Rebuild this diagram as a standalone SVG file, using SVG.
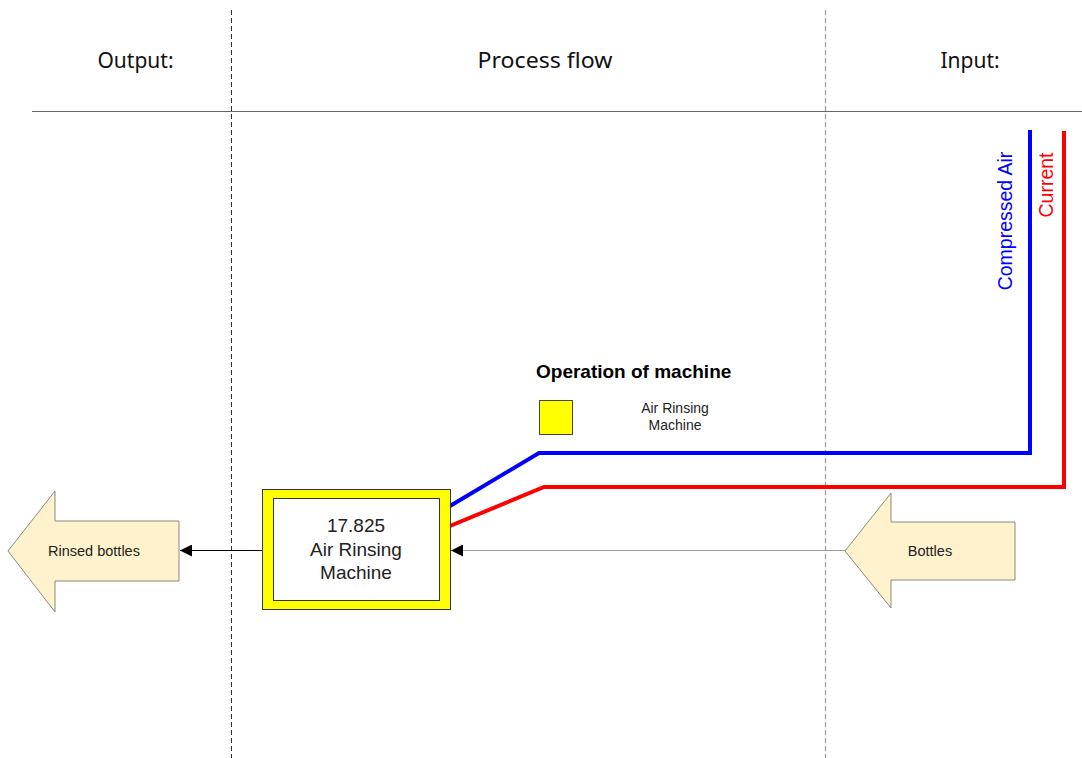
<svg xmlns="http://www.w3.org/2000/svg" width="1082" height="758" viewBox="0 0 1082 758">
  <style>
    .hdr { font-family: "Noto Sans", "Open Sans", sans-serif; font-size: 21px; fill: #111; text-anchor: middle; }
    .lbl { font-family: "Liberation Sans", Arial, sans-serif; fill: #222; text-anchor: middle; }
    .big-arrow { fill: #FFF2CC; stroke: #8a8a80; stroke-width: 1; }
    .flow { fill: none; stroke-width: 4; stroke-linejoin: miter; }
  </style>
  <defs>
    <marker id="tri" viewBox="0 0 10 10" refX="10" refY="5" markerWidth="12" markerHeight="12" markerUnits="userSpaceOnUse" orient="auto">
      <path d="M0,0 L10,5 L0,10 z" fill="#000"/>
    </marker>
  </defs>

  <rect width="1082" height="758" fill="#fff"/>

  <!-- column headers and separators -->
  <g id="layout">
    <line x1="32" y1="111.5" x2="1082" y2="111.5" stroke="#666" stroke-width="1.2"/>
    <line x1="231.5" y1="10" x2="231.5" y2="758" stroke="#333" stroke-width="1" stroke-dasharray="5,3"/>
    <line x1="825.5" y1="10" x2="825.5" y2="758" stroke="#999" stroke-width="1.2" stroke-dasharray="5,3"/>
    <text class="hdr" x="135.5" y="68">Output:</text>
    <text class="hdr" x="545" y="68" textLength="135" lengthAdjust="spacingAndGlyphs" style="font-size:22px">Process flow</text>
    <text class="hdr" x="970" y="68">Input:</text>
  </g>

  <!-- connectors -->
  <g id="connectors">
    <polyline class="flow" stroke="#0000FF" points="450,506 539,453 1030,453 1030,130"/>
    <polyline class="flow" stroke="#FF0000" points="450,526 544,487 1064,487 1064,131"/>
    <line x1="845" y1="550.5" x2="451" y2="550.5" stroke="#999" stroke-width="1.2" marker-end="url(#tri)"/>
    <line x1="262" y1="550.5" x2="180" y2="550.5" stroke="#000" stroke-width="1" marker-end="url(#tri)"/>
  </g>

  <!-- supply labels -->
  <g id="supply-labels">
    <text class="lbl" font-size="19.5" style="fill:#0000FF" transform="translate(1012,221) rotate(-90)">Compressed Air</text>
    <text class="lbl" font-size="19.5" style="fill:#FF0000" transform="translate(1053,185) rotate(-90)">Current</text>
  </g>

  <!-- legend -->
  <g id="legend">
    <text x="536" y="378" font-family="Liberation Sans, Arial, sans-serif" font-size="19" font-weight="bold" fill="#000">Operation of machine</text>
    <rect x="539.5" y="400.5" width="33" height="34" fill="#FFFF00" stroke="#444" stroke-width="1"/>
    <text class="lbl" font-size="14" x="675" y="413">Air Rinsing</text>
    <text class="lbl" font-size="14" x="675" y="430">Machine</text>
  </g>

  <!-- machine -->
  <g id="air-rinsing-machine">
    <rect x="262.5" y="489.5" width="188" height="120" fill="#FFFF00" stroke="#333" stroke-width="1"/>
    <rect x="273.5" y="498.5" width="166" height="102" fill="#fff" stroke="#333" stroke-width="1"/>
    <text class="lbl" font-size="19" x="356" y="532">17.825</text>
    <text class="lbl" font-size="19" x="356" y="556">Air Rinsing</text>
    <text class="lbl" font-size="19" x="356" y="579">Machine</text>
  </g>

  <!-- output -->
  <g id="rinsed-bottles">
    <path class="big-arrow" d="M8,551 L55,491 L55,521 L179,521 L179,581 L55,581 L55,612 Z"/>
    <text class="lbl" font-size="14.5" x="94" y="556">Rinsed bottles</text>
  </g>

  <!-- input -->
  <g id="bottles">
    <path class="big-arrow" d="M845,551 L891,493 L891,522 L1015,522 L1015,580 L891,580 L891,608 Z"/>
    <text class="lbl" font-size="14.5" x="930" y="556">Bottles</text>
  </g>
</svg>
